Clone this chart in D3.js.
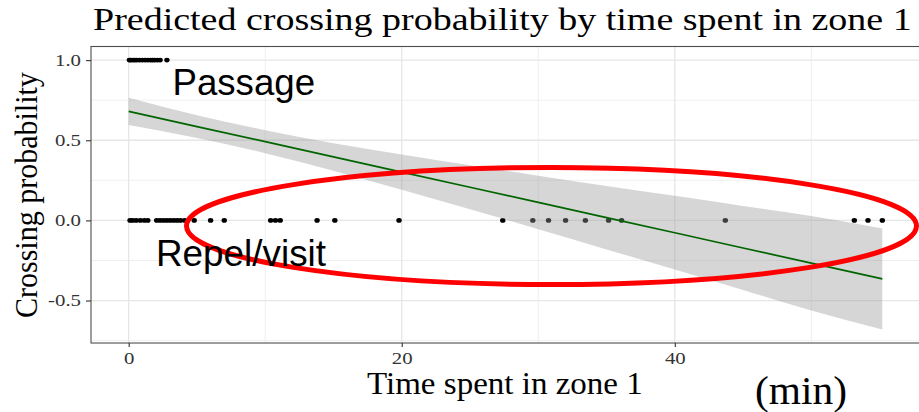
<!DOCTYPE html>
<html>
<head>
<meta charset="utf-8">
<script src="https://cdn.jsdelivr.net/npm/d3@7"></script>
<style>
  html, body { margin: 0; padding: 0; background: #fff; }
  #container { width: 919px; height: 412px; overflow: hidden; }
</style>
</head>
<body>
<div id="container"></div>
<script>
/* DATA */
// time spent in zone 1 (min) for animals that crossed (y = 1)
const passageTimes = [0.05, 0.15, 0.3, 0.45, 0.6, 0.8, 1.0, 1.2, 1.4, 1.6, 1.75, 1.9, 2.1, 2.3, 2.8];
// time spent for animals that were repelled / only visited (y = 0)
const repelTimes = [0.1, 0.3, 0.55, 0.85, 1.15, 1.4, 2.05, 2.3, 2.55, 2.8, 3.05, 3.3, 3.55, 3.8, 4.1,
  4.8, 6.0, 7.0, 10.4, 10.75, 11.1, 13.8, 15.1, 19.8, 27.4, 29.6, 30.75, 32.0, 33.45, 35.15, 36.1,
  43.7, 53.15, 54.15, 55.2];
// fitted line and confidence band (geom_smooth, lm)
const smoothX  = [0, 5, 10, 15, 20, 25, 30, 35, 40, 45, 50, 55.2];
const smoothY  = [0.680, 0.585, 0.491, 0.396, 0.301, 0.207, 0.112, 0.017, -0.077, -0.172, -0.267, -0.365];
const smoothLo = [0.595, 0.514, 0.419, 0.310, 0.191, 0.070, -0.055, -0.181, -0.307, -0.434, -0.562, -0.680];
const smoothHi = [0.765, 0.656, 0.563, 0.482, 0.411, 0.344, 0.279, 0.215, 0.153, 0.090, 0.028, -0.050];
// ticks
const xTicks = [0, 20, 40];
const xMinor = [10, 30, 50];
const yTicks = [-0.5, 0.0, 0.5, 1.0];
const yMinor = [-0.75, -0.25, 0.25, 0.75];

/* CONSTANTS AND GLOBALS */
const width = 919,
  height = 412,
  panel = { left: 91, right: 920, top: 46.5, bottom: 343 },
  stretch = 1.3; // the original picture is wider than tall, serif texts look stretched
let xScale, yScale;

const serif = "'Liberation Serif', 'Times New Roman', serif";
const sans = "'Liberation Sans', Arial, sans-serif";

init();

function init() {
  xScale = d3.scaleLinear()
    .domain([-2.76, 57.96])
    .range([panel.left, panel.right]);

  yScale = d3.scaleLinear()
    .domain([-0.765, 1.085])
    .range([panel.bottom, panel.top]);

  draw();
}

// place a text at (x, y) and scale it so it spans `target` px
function wideText(parent, str, x, y, size, target, family, rotate) {
  const t = parent.append("text")
    .attr("font-family", family)
    .attr("font-size", size)
    .attr("fill", "#000")
    .text(str);
  const k = target / t.node().getComputedTextLength();
  if (rotate) {
    // rotated text: keep its length, widen glyphs across
    t.attr("transform", `translate(${x}, ${y}) rotate(-90) scale(${k}, ${rotate})`);
  } else {
    t.attr("transform", `translate(${x}, ${y}) scale(${k}, 1)`);
  }
  return t;
}

function draw() {
  const svg = d3.select("#container")
    .append("svg")
    .attr("width", width)
    .attr("height", height);

  // grid
  const grid = svg.append("g");
  grid.selectAll(".vminor")
    .data(xMinor)
    .join("line")
    .attr("x1", d => xScale(d)).attr("x2", d => xScale(d))
    .attr("y1", panel.top).attr("y2", panel.bottom)
    .attr("stroke", "#ebebeb").attr("stroke-width", 0.8);
  grid.selectAll(".hminor")
    .data(yMinor)
    .join("line")
    .attr("x1", panel.left).attr("x2", panel.right)
    .attr("y1", d => yScale(d)).attr("y2", d => yScale(d))
    .attr("stroke", "#ebebeb").attr("stroke-width", 0.8);
  grid.selectAll(".vmajor")
    .data(xTicks)
    .join("line")
    .attr("x1", d => xScale(d)).attr("x2", d => xScale(d))
    .attr("y1", panel.top).attr("y2", panel.bottom)
    .attr("stroke", "#e6e6e6").attr("stroke-width", 1.3);
  grid.selectAll(".hmajor")
    .data(yTicks)
    .join("line")
    .attr("x1", panel.left).attr("x2", panel.right)
    .attr("y1", d => yScale(d)).attr("y2", d => yScale(d))
    .attr("stroke", "#e6e6e6").attr("stroke-width", 1.3);

  // points
  const pts = passageTimes.map(t => ({ x: t, y: 1 }))
    .concat(repelTimes.map(t => ({ x: t, y: 0 })));
  svg.append("g")
    .selectAll("ellipse")
    .data(pts)
    .join("ellipse")
    .attr("cx", d => xScale(d.x))
    .attr("cy", d => yScale(d.y))
    .attr("rx", 2.7)
    .attr("ry", 2.3)
    .attr("fill", "#000");

  // confidence band
  const band = smoothX.map((x, i) => ({ x: x, y: smoothY[i], lo: smoothLo[i], hi: smoothHi[i] }));
  svg.append("path")
    .datum(band)
    .attr("d", d3.area()
      .x(d => xScale(d.x))
      .y0(d => yScale(d.lo))
      .y1(d => yScale(d.hi))
      .curve(d3.curveMonotoneX))
    .attr("fill", "#999999")
    .attr("fill-opacity", 0.4);

  // fitted line
  svg.append("path")
    .datum(band)
    .attr("d", d3.line().x(d => xScale(d.x)).y(d => yScale(d.y)))
    .attr("fill", "none")
    .attr("stroke", "#006400")
    .attr("stroke-width", 1.7);

  // panel border
  svg.append("rect")
    .attr("x", panel.left).attr("y", panel.top)
    .attr("width", panel.right - panel.left)
    .attr("height", panel.bottom - panel.top)
    .attr("fill", "none")
    .attr("stroke", "#4d4d4d")
    .attr("stroke-width", 1.1);

  // axes
  const xAxis = d3.axisBottom(xScale).tickValues(xTicks).tickFormat(d3.format("d"))
    .tickSize(4).tickSizeOuter(0).tickPadding(6);
  const yAxis = d3.axisLeft(yScale).tickValues(yTicks)
    .tickFormat(d => d < 0 ? "-" + Math.abs(d).toFixed(1) : d.toFixed(1))
    .tickSize(5).tickSizeOuter(0).tickPadding(5);

  const gx = svg.append("g")
    .attr("transform", `translate(0, ${panel.bottom})`)
    .call(xAxis);
  const gy = svg.append("g")
    .attr("transform", `translate(${panel.left}, 0)`)
    .call(yAxis);
  [gx, gy].forEach(g => {
    g.select(".domain").remove();
    g.selectAll("line").attr("stroke", "#333").attr("stroke-width", 1.1);
    g.selectAll("text")
      .attr("fill", "#333")
      .style("font-family", serif)
      .style("font-size", "16px");
  });
  // widen tick labels like the original
  gx.selectAll("text").attr("transform", `scale(${stretch}, 1)`);
  gy.selectAll("text")
    .attr("x", -10 / stretch)
    .attr("transform", `scale(${stretch}, 1)`);

  // red ellipse annotation
  svg.append("ellipse")
    .attr("cx", 551.5).attr("cy", 226)
    .attr("rx", 365).attr("ry", 58.5)
    .attr("fill", "none")
    .attr("stroke", "#ff0000")
    .attr("stroke-width", 5);

  // titles
  wideText(svg, "Predicted crossing probability by time spent in zone 1", 93, 30, 31.5, 819, serif);
  wideText(svg, "Time spent in zone 1", 367, 394, 31, 276, serif);
  wideText(svg, "Crossing probability", 37, 318, 25, 246, serif, 1.3);
  wideText(svg, "(min)", 755, 404, 41, 92, serif);

  // in-panel labels
  wideText(svg, "Passage", 172.5, 95, 36.6, 142.5, sans);
  wideText(svg, "Repel/visit", 156, 266, 36.9, 170, sans);
}
</script>
</body>
</html>
